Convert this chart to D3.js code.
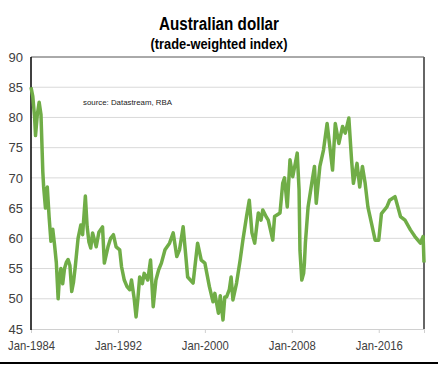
<!DOCTYPE html>
<meta charset="utf-8">
<script src="https://d3js.org/d3.v7.min.js"></script>
<style>
body { margin: 0; background: #fff; }
.title { font: bold 18px Arial, "Liberation Sans", sans-serif; fill: #000; }
.subtitle { font: bold 14px Arial, "Liberation Sans", sans-serif; fill: #000; }
.tick text { font: 13px Arial, "Liberation Sans", sans-serif; fill: #404040; }
.source { font: 8px Arial, "Liberation Sans", sans-serif; fill: #222; }
</style>
<div id="chart"></div>
<script>

// monthly-ish readings of the trade-weighted index
const dates = ["1984-01","1984-03","1984-05","1984-06","1984-08","1984-10","1984-12","1985-02","1985-03","1985-05",
  "1985-07","1985-09","1985-11","1986-01","1986-03","1986-05","1986-07","1986-08","1986-10","1986-12",
  "1987-02","1987-04","1987-06","1987-08","1987-10","1987-12","1988-02","1988-05","1988-08","1988-10",
  "1989-01","1989-03","1989-05","1989-07","1989-09","1990-01","1990-04","1990-08","1990-10","1991-02",
  "1991-05","1991-08","1991-11","1992-03","1992-05","1992-08","1992-11","1993-02","1993-04","1993-07",
  "1993-09","1993-11","1994-01","1994-04","1994-06","1994-10","1995-01","1995-04","1995-07","1995-10",
  "1996-01","1996-05","1996-10","1997-02","1997-06","1997-09","1998-01","1998-04","1998-06","1998-12",
  "1999-05","1999-09","2000-01","2000-06","2000-10","2000-12","2001-04","2001-06","2001-09","2001-11",
  "2002-01","2002-04","2002-06","2002-08","2002-12","2003-04","2003-07","2003-11","2004-02","2004-05",
  "2004-08","2004-12","2005-03","2005-05","2005-09","2005-11","2006-04","2006-06","2006-12","2007-03",
  "2007-05","2007-08","2007-11","2008-02","2008-05","2008-07","2008-09","2008-10","2008-12","2009-02",
  "2009-03","2009-04","2009-07","2009-11","2010-02","2010-04","2010-08","2010-12","2011-04","2011-07",
  "2011-10","2012-01","2012-05","2012-09","2012-12","2013-04","2013-07","2013-09","2014-01","2014-04",
  "2014-07","2014-10","2015-01","2015-05","2015-09","2016-01","2016-04","2016-10","2017-01","2017-07",
  "2018-01","2018-06","2018-12","2019-05","2019-11","2020-02","2020-03"];

const twi = [85.0,83.5,80.0,77.0,80.5,82.5,80.5,71.0,68.5,65.0,
  68.5,63.5,59.5,61.5,59.0,56.0,50.0,52.5,55.0,52.5,
  55.0,56.0,56.5,55.5,51.2,52.8,55.5,60.0,62.2,60.6,
  67.0,62.0,59.4,58.4,60.9,58.6,61.0,61.9,55.9,58.6,
  60.0,60.6,58.6,58.1,55.3,53.1,52.0,51.5,53.1,50.0,
  47.0,50.0,53.6,52.5,54.2,53.1,56.4,48.7,53.1,54.8,
  55.9,58.1,59.2,60.9,57.0,58.1,61.9,57.0,53.6,52.6,
  59.2,56.4,55.9,52.0,49.5,50.9,47.6,50.5,46.5,50.3,
  50.3,51.5,53.6,49.8,52.6,56.4,59.7,63.6,66.3,60.9,
  59.2,64.2,63.0,64.7,63.5,63.0,59.7,63.6,64.2,69.1,
  70.0,65.2,73.0,70.2,72.5,74.1,68.0,58.0,53.1,54.2,
  56.0,59.2,65.2,69.1,71.9,65.8,71.9,74.6,79.0,75.2,
  71.3,79.0,75.7,78.5,77.4,79.9,73.0,69.1,72.4,68.5,
  71.9,69.1,65.2,62.5,59.7,59.7,64.1,65.2,66.3,66.9,
  63.6,63.0,61.4,60.3,59.2,60.3,56.0];

const yTicks = [45, 50, 55, 60, 65, 70, 75, 80, 85, 90];
const xTicks = ["1984-01", "1992-01", "2000-01", "2008-01", "2016-01"];

const W = 438, H = 365;
const margin = {top: 57, right: 14, bottom: 36, left: 31};
const width = W - margin.left - margin.right,
      height = H - margin.top - margin.bottom;

const parse = d3.timeParse("%Y-%m");
const data = dates.map((d, i) => ({date: parse(d), value: twi[i]}));

const svg = d3.select("#chart").append("svg")
    .attr("width", W)
    .attr("height", H);

const g = svg.append("g")
    .attr("transform", `translate(${margin.left},${margin.top})`);

const x = d3.scaleTime()
    .domain([parse("1984-01"), parse("2020-03")])
    .range([0, width]);

const y = d3.scaleLinear()
    .domain([45, 90])
    .range([height, 0]);

// titles
svg.append("text")
    .attr("class", "title")
    .attr("x", 219).attr("y", 30)
    .attr("text-anchor", "middle")
    .attr("textLength", 120)
    .attr("lengthAdjust", "spacingAndGlyphs")
    .text("Australian dollar");

svg.append("text")
    .attr("class", "subtitle")
    .attr("x", 219).attr("y", 49)
    .attr("text-anchor", "middle")
    .attr("textLength", 137)
    .attr("lengthAdjust", "spacingAndGlyphs")
    .text("(trade-weighted index)");

// gridlines
g.append("g")
  .selectAll("line")
  .data(yTicks.filter(v => v > 45 && v < 90))
  .join("line")
    .attr("x1", 0).attr("x2", width)
    .attr("y1", d => y(d)).attr("y2", d => y(d))
    .attr("stroke", "#d9d9d9")
    .attr("stroke-width", 1);

// y axis labels
const yAxis = g.append("g")
    .call(d3.axisLeft(y).tickValues(yTicks).tickSize(0).tickPadding(8));
yAxis.select(".domain").remove();

// x axis
const xAxis = g.append("g")
    .attr("transform", `translate(0,${height})`)
    .call(d3.axisBottom(x).tickValues(xTicks.map(parse))
      .tickFormat(d3.timeFormat("Jan-%Y")).tickSize(4).tickPadding(8));
xAxis.select(".domain").attr("stroke", "#d0d0d0");
xAxis.selectAll(".tick line").attr("stroke", "#d0d0d0");
xAxis.selectAll(".tick text")
    .attr("textLength", 47)
    .attr("lengthAdjust", "spacingAndGlyphs");

// frame
g.append("line")
    .attr("x1", 0).attr("x2", width).attr("y1", 0).attr("y2", 0)
    .attr("stroke", "#555").attr("stroke-width", 1);
g.append("line")
    .attr("x1", width).attr("x2", width).attr("y1", 0).attr("y2", height)
    .attr("stroke", "#666").attr("stroke-width", 2);
g.append("line")
    .attr("x1", 0).attr("x2", 0).attr("y1", 0).attr("y2", height + 1)
    .attr("stroke", "#000").attr("stroke-width", 1.5);

// source note
g.append("text")
    .attr("class", "source")
    .attr("x", 52).attr("y", 48)
    .attr("textLength", 89)
    .attr("lengthAdjust", "spacingAndGlyphs")
    .text("source:  Datastream, RBA");

// series
g.append("path")
    .datum(data)
    .attr("fill", "none")
    .attr("stroke", "#70ad47")
    .attr("stroke-width", 3.5)
    .attr("stroke-linejoin", "round")
    .attr("d", d3.line().x(d => x(d.date)).y(d => y(d.value)));

// bottom rule of the picture
svg.append("line")
    .attr("x1", 0).attr("x2", W).attr("y1", H - 2).attr("y2", H - 2)
    .attr("stroke", "#000").attr("stroke-width", 2);

</script>
